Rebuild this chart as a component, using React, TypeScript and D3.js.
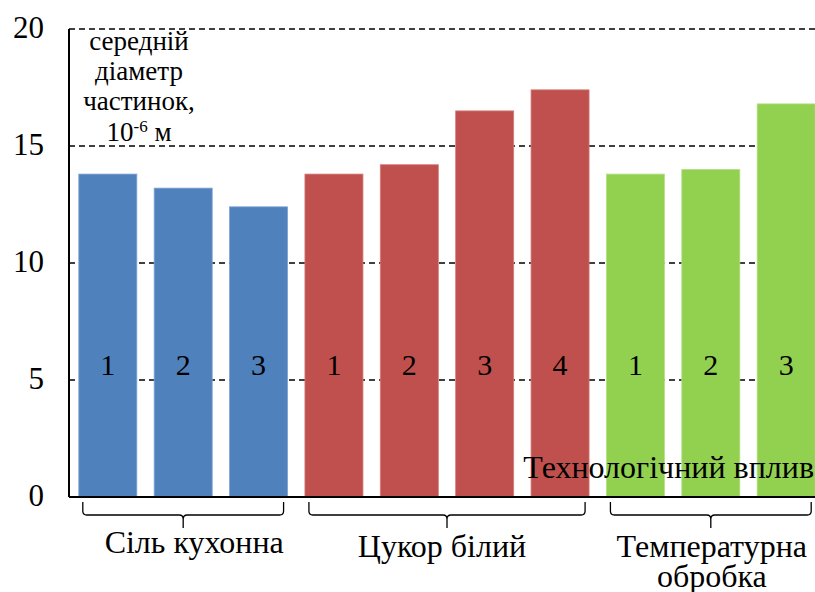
import React from 'react';
import * as d3 from 'd3';

const groupNames = ['Сіль кухонна', 'Цукор білий', 'Температурна обробка'];
const groupLines = [['Сіль кухонна'], ['Цукор білий'], ['Температурна', 'обробка']];
const barLabels = ['1', '2', '3', '1', '2', '3', '4', '1', '2', '3'];
const barGroups = [0, 0, 0, 1, 1, 1, 1, 2, 2, 2];
const values = [13.8, 13.2, 12.4, 13.8, 14.2, 16.5, 17.4, 13.8, 14.0, 16.8];
const yTicks = [0, 5, 10, 15, 20];
const groupColors = ['#4F81BD', '#C0504D', '#92D050'];
const groupStrokes = ['#7FA3D3', '#D47C7A', '#B3E084'];

const W = 815;
const H = 592;
const FF = 'Liberation Serif';

export default function App() {
  const x0 = 69;
  const baseY = 497;
  const topY = 29;
  const idx = values.map((_, i) => String(i));
  const x = d3.scaleBand().domain(idx).range([x0, 825]).paddingInner(0.23).paddingOuter(0.13);
  const y = d3.scaleLinear().domain([0, 20]).range([baseY, topY]);
  const bw = x.bandwidth();

  const labelShift = [11, -5, 1];
  const groups = groupNames.map((_, g) => {
    const ids = idx.filter((_, i) => barGroups[i] === g);
    const start = (x(ids[0]) as number) + 4;
    const end = (x(ids[ids.length - 1]) as number) + bw - 4;
    return { g, start, end, mid: (start + end) / 2 };
  });

  const bracketPath = (s: number, e: number) => {
    const m = (s + e) / 2;
    const top = 502, mid = 515, tip = 528, r = 4;
    return `M${s},${top} L${s},${mid - r} Q${s},${mid} ${s + r},${mid} L${m - r},${mid} Q${m},${mid} ${m},${mid + r} L${m},${tip} M${m},${mid + r} Q${m},${mid} ${m + r},${mid} L${e - r},${mid} Q${e},${mid} ${e},${mid - r} L${e},${top}`;
  };

  const fs = { fontFamily: `"${FF}"` };

  return (
    <div style={{ position: 'absolute', left: 0, top: 0, width: W, height: H, background: '#fff' }}>
      <svg width={W} height={H} style={{ display: 'block' }}>
        {yTicks.filter(t => t > 0).map(t => (
          <line key={'g' + t} x1={x0} x2={W} y1={y(t)} y2={y(t)} stroke="#000" strokeWidth={1.3} strokeDasharray="6,4" />
        ))}
        {values.map((v, i) => (
          <rect key={'b' + i} x={x(String(i))} y={y(v)} width={bw} height={baseY - y(v)}
            fill={groupColors[barGroups[i]]} stroke={groupStrokes[barGroups[i]]} strokeWidth={0.8} />
        ))}
        {values.map((v, i) => (
          <text key={'l' + i} x={(x(String(i)) as number) + bw / 2} y={375} textAnchor="middle" fontSize={30} fill="#000" style={fs}>
            {barLabels[i]}
          </text>
        ))}
        <line x1={x0} x2={x0} y1={topY} y2={baseY} stroke="#000" strokeWidth={2} />
        <line x1={x0} x2={W} y1={baseY} y2={baseY} stroke="#000" strokeWidth={2} />
        {yTicks.map(t => (
          <text key={'t' + t} x={44} y={y(t) + 9} textAnchor="end" fontSize={31} fill="#000" style={fs}>{t}</text>
        ))}
        <text x={139} y={50} textAnchor="middle" fontSize={27} style={fs}>середній</text>
        <text x={139} y={80} textAnchor="middle" fontSize={27} style={fs}>діаметр</text>
        <text x={139} y={110} textAnchor="middle" fontSize={27} style={fs}>частинок,</text>
        <text x={139} y={141} textAnchor="middle" fontSize={27} style={fs}>10<tspan fontSize={17} dy={-9}>-6</tspan><tspan dy={9}> м</tspan></text>
        <text x={814} y={478} textAnchor="end" fontSize={32} fill="#000" style={fs}>Технологічний вплив</text>
        {groups.map(gr => (
          <path key={'br' + gr.g} d={bracketPath(gr.start, gr.end)} fill="none" stroke="#000" strokeWidth={1.3} />
        ))}
        {groups.map(gr => (
          <g key={'gl' + gr.g}>
            {groupLines[gr.g].map((ln, k) => (
              <text key={k} x={gr.mid + labelShift[gr.g]} y={(gr.g === 0 ? 553 : 557) + k * 30} textAnchor="middle" fontSize={32} fill="#000" style={fs}>{ln}</text>
            ))}
          </g>
        ))}
      </svg>
    </div>
  );
}
